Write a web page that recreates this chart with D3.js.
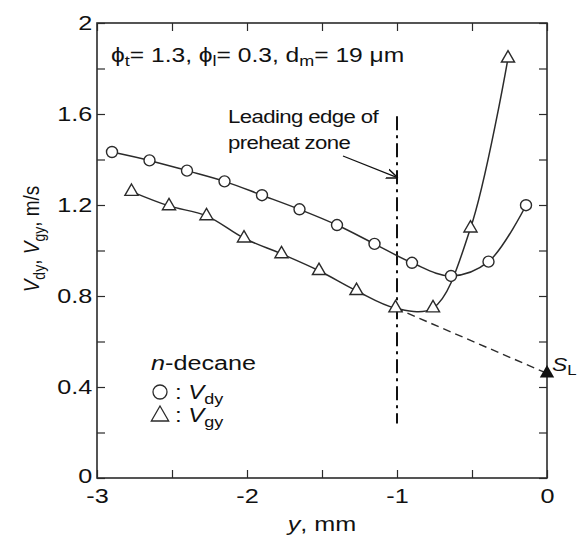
<!DOCTYPE html>
<html>
<head>
<meta charset="utf-8">
<script src="https://cdn.jsdelivr.net/npm/d3@7"></script>
<style>
  body { margin: 0; background: #fff; }
  svg { display: block; font-family: Arial, "Liberation Sans", sans-serif; }
</style>
</head>
<body>
<div id="chart"></div>
<script>
// droplet velocity V_dy (circles)
const dropY = [-2.9, -2.65, -2.4, -2.15, -1.9, -1.65, -1.4, -1.15, -0.9, -0.64, -0.39, -0.14];
const dropV = [1.433, 1.396, 1.351, 1.304, 1.243, 1.181, 1.112, 1.029, 0.946, 0.888, 0.951, 1.199];
// gas velocity V_gy (triangles)
const gasY = [-2.77, -2.52, -2.27, -2.02, -1.77, -1.52, -1.27, -1.01, -0.76, -0.51, -0.26];
const gasV = [1.259, 1.196, 1.152, 1.054, 0.985, 0.911, 0.823, 0.747, 0.747, 1.098, 1.845];
// extrapolation to laminar burning velocity
const extrapY = [-1.01, 0];
const extrapV = [0.747, 0.46];
const leadingEdge = -1;
const xTicks = [-3, -2, -1, 0];
const yTicks = [0, 0.4, 0.8, 1.2, 1.6, 2];

const width = 579, height = 539;
const ink = "#2b2b2b";
const SX = 1.2; // the original lettering is a little wide

const svg = d3.select("#chart").append("svg")
  .attr("width", width)
  .attr("height", height);

const x = d3.scaleLinear().domain([-3, 0]).range([97, 547]);
const y = d3.scaleLinear().domain([0, 2]).range([478, 23]);

function stext(parent, px, py, size) {
  return parent.append("text")
    .attr("transform", `translate(${px},${py}) scale(${SX},1)`)
    .style("font-size", size + "px")
    .attr("fill", "#111");
}

// inward ticks on all four sides
const minorX = d3.range(-3, 0.01, 0.5);
const minorY = d3.range(0, 2.01, 0.2);

function styleAxis(g) {
  g.select(".domain").remove();
  g.selectAll(".tick line").attr("stroke", ink).attr("stroke-width", 1.2);
  g.selectAll(".tick text").attr("fill", "#111").style("font-size", "21px")
    .attr("transform", `scale(${SX},1)`);
}

svg.append("g").attr("transform", "translate(0,478)")
  .call(d3.axisBottom(x).tickValues(minorX).tickSize(-8).tickPadding(10)
    .tickFormat(d => {
      const v = Math.round(d * 10) / 10;
      return xTicks.includes(v) ? String(v) : "";
    }))
  .call(styleAxis);

svg.append("g").attr("transform", "translate(0,23)")
  .call(d3.axisTop(x).tickValues(minorX).tickSize(-8).tickFormat(""))
  .call(styleAxis);

svg.append("g").attr("transform", "translate(97,0)")
  .call(d3.axisLeft(y).tickValues(minorY).tickSize(-8).tickPadding(4)
    .tickFormat(d => {
      const v = Math.round(d * 10) / 10;
      return yTicks.includes(v) ? (v === 0 || v === 2 ? String(v) : v.toFixed(1)) : "";
    }))
  .call(styleAxis);

// the "0" sits just above the x labels, as in the original
svg.selectAll("g.tick text").filter(function() {
  return this.textContent === "0" && this.getAttribute("x") !== null && +this.getAttribute("x") < 0;
}).attr("dy", "0.2em");

svg.append("g").attr("transform", "translate(547,0)")
  .call(d3.axisRight(y).tickValues(minorY).tickSize(-8).tickFormat(""))
  .call(styleAxis);

// frame
svg.append("rect")
  .attr("x", x(-3)).attr("y", y(2))
  .attr("width", x(0) - x(-3)).attr("height", y(0) - y(2))
  .attr("fill", "none").attr("stroke", ink).attr("stroke-width", 1.6);

// leading edge of preheat zone
svg.append("line")
  .attr("x1", x(leadingEdge)).attr("x2", x(leadingEdge))
  .attr("y1", y(1.59)).attr("y2", y(0.24))
  .attr("stroke", "#111").attr("stroke-width", 2)
  .attr("stroke-dasharray", "14,5,3,5");

// extrapolation dashed line
const line = d3.line().x(d => x(d[0])).y(d => y(d[1]));
svg.append("path")
  .attr("d", line(d3.zip(extrapY, extrapV)))
  .attr("fill", "none").attr("stroke", ink).attr("stroke-width", 1.4)
  .attr("stroke-dasharray", "8,5");

const curve = d3.line().x(d => x(d[0])).y(d => y(d[1])).curve(d3.curveCatmullRom.alpha(0.5));

svg.append("path")
  .attr("d", curve(d3.zip(dropY, dropV)))
  .attr("fill", "none").attr("stroke", ink).attr("stroke-width", 1.5);

svg.append("path")
  .attr("d", curve(d3.zip(gasY, gasV)))
  .attr("fill", "none").attr("stroke", ink).attr("stroke-width", 1.5);

const tri = d3.symbol().type(d3.symbolTriangle).size(75);

svg.append("g").selectAll("circle")
  .data(d3.zip(dropY, dropV))
  .join("circle")
  .attr("cx", d => x(d[0])).attr("cy", d => y(d[1])).attr("r", 5.5)
  .attr("fill", "#fff").attr("stroke", ink).attr("stroke-width", 1.4);

svg.append("g").selectAll("path")
  .data(d3.zip(gasY, gasV))
  .join("path")
  .attr("d", tri)
  .attr("transform", d => `translate(${x(d[0])},${y(d[1])})`)
  .attr("fill", "#fff").attr("stroke", ink).attr("stroke-width", 1.4);

// S_L marker
svg.append("path")
  .attr("d", d3.symbol().type(d3.symbolTriangle).size(90))
  .attr("transform", `translate(${x(0)},${y(extrapV[1])})`)
  .attr("fill", "#111");

const sl = stext(svg, 552, 371, 19);
sl.append("tspan").text("S").style("font-style", "italic");
sl.append("tspan").text("L").attr("dy", 4).style("font-size", "14px");

// arrow to leading edge
svg.append("defs").append("marker")
  .attr("id", "arrow").attr("viewBox", "0 0 10 10")
  .attr("refX", 10).attr("refY", 5)
  .attr("markerWidth", 9).attr("markerHeight", 9)
  .attr("orient", "auto")
  .append("path").attr("d", "M0,1 L10,5 L0,9")
  .attr("fill", "none").attr("stroke", "#111").attr("stroke-width", 1.3);

svg.append("line")
  .attr("x1", 343).attr("y1", 156)
  .attr("x2", x(leadingEdge) + 1).attr("y2", y(1.319))
  .attr("stroke", "#111").attr("stroke-width", 1.3)
  .attr("marker-end", "url(#arrow)");

stext(svg, 228, 123, 18.5).style("letter-spacing", "-0.5px").text("Leading edge of");
stext(svg, 228, 149, 18.5).style("letter-spacing", "-0.5px").text("preheat zone");

// condition annotation
const cond = stext(svg, 111, 62, 20.5);
cond.append("tspan").text("ϕ");
cond.append("tspan").text("t").attr("dy", 4).style("font-size", "15px");
cond.append("tspan").text("= 1.3, ϕ").attr("dy", -4);
cond.append("tspan").text("l").attr("dy", 4).style("font-size", "15px");
cond.append("tspan").text("= 0.3, d").attr("dy", -4);
cond.append("tspan").text("m").attr("dy", 4).style("font-size", "15px");
cond.append("tspan").text("= 19 μm").attr("dy", -4);

// legend
const lg = svg.append("g");
const lt = stext(lg, 151, 370, 21);
lt.append("tspan").text("n").style("font-style", "italic");
lt.append("tspan").text("-decane");

lg.append("circle").attr("cx", 160).attr("cy", 392).attr("r", 7)
  .attr("fill", "#fff").attr("stroke", ink).attr("stroke-width", 1.3);
const l1 = stext(lg, 175, 399, 20);
l1.append("tspan").text(": ");
l1.append("tspan").text("V").style("font-style", "italic");
l1.append("tspan").text("dy").attr("dy", 5).style("font-size", "15px");

lg.append("path").attr("d", d3.symbol().type(d3.symbolTriangle).size(130))
  .attr("transform", "translate(160,416)")
  .attr("fill", "#fff").attr("stroke", ink).attr("stroke-width", 1.3);
const l2 = stext(lg, 175, 422, 20);
l2.append("tspan").text(": ");
l2.append("tspan").text("V").style("font-style", "italic");
l2.append("tspan").text("gy").attr("dy", 5).style("font-size", "15px");

// axis titles
const xt = stext(svg, 322, 531, 21).attr("text-anchor", "middle");
xt.append("tspan").text("y").style("font-style", "italic");
xt.append("tspan").text(", mm");

const yt = svg.append("text")
  .attr("transform", `translate(39,239) scale(${SX},1) rotate(-90)`)
  .attr("text-anchor", "middle").style("font-size", "19px").attr("fill", "#111");
yt.append("tspan").text("V").style("font-style", "italic");
yt.append("tspan").text("dy").attr("dy", 5).style("font-size", "14px");
yt.append("tspan").text(", ").attr("dy", -5);
yt.append("tspan").text("V").style("font-style", "italic");
yt.append("tspan").text("gy").attr("dy", 5).style("font-size", "14px");
yt.append("tspan").text(", m/s").attr("dy", -5);
</script>
</body>
</html>
